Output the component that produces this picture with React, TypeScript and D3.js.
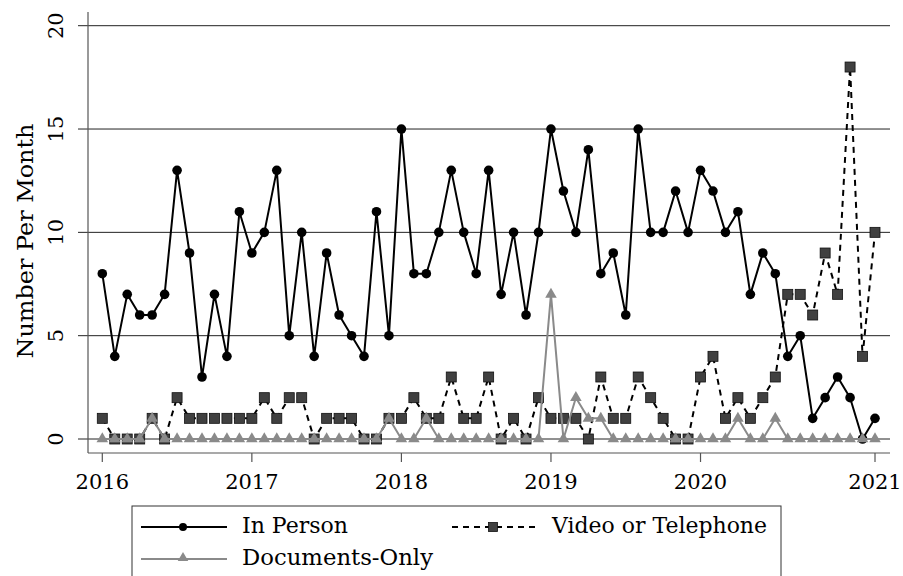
import React from 'react';
import * as d3 from 'd3';

// Monthly counts, Jan 2016 .. Mar 2021
const inPerson = [8,4,7,6,6,7,13,9,3,7,4,11, 9,10,13,5,10,4,9,6,5,4,11,5, 15,8,8,10,13,10,8,13,7,10,6,10, 15,12,10,14,8,9,6,15,10,10,12,10, 13,12,10,11,7,9,8,4,5,1,2,3, 2,0,1];
const videoTelephone = [1,0,0,0,1,0,2,1,1,1,1,1, 1,2,1,2,2,0,1,1,1,0,0,1, 1,2,1,1,3,1,1,3,0,1,0,2, 1,1,1,0,3,1,1,3,2,1,0,0, 3,4,1,2,1,2,3,7,7,6,9,7, 18,4,10];
const documentsOnly = [0,0,0,0,1,0,0,0,0,0,0,0, 0,0,0,0,0,0,0,0,0,0,0,1, 0,0,1,0,0,0,0,0,0,0,0,0, 7,0,2,1,1,0,0,0,0,0,0,0, 0,0,0,1,0,0,1,0,0,0,0,0, 0,0,0];
const xTickIndex = [0, 12, 24, 36, 48, 62];
const xTickLabels = ['2016', '2017', '2018', '2019', '2020', '2021'];
const yTicks = [0, 5, 10, 15, 20];
const seriesNames = ['In Person', 'Video or Telephone', 'Documents-Only'];

const W = 903, H = 576;
const plotLeft = 88, plotRight = 890, plotTop = 12, plotBottom = 453;
const FONT = '"DejaVu Serif", serif';

export default function App() {
  const idx = d3.range(inPerson.length);
  const x = d3.scaleLinear().domain([0, 62]).range([102.3, 875]);
  const y = d3.scaleLinear().domain([0, 20]).range([439, 25.7]);
  const line = (vals: number[]) =>
    d3.line<number>().x((_, i) => x(i)).y((d) => y(d))(vals) || '';
  const tri = d3.symbol().type(d3.symbolTriangle).size(58)() || '';
  const grey = '#8a8a8a';
  const sq = 10;

  return (
    <svg width={W} height={H} style={{ position: 'absolute', left: 0, top: 0, display: 'block', background: '#fff' }}>
      <rect x={0} y={0} width={W} height={H} fill="#fff" />
      {/* gridlines */}
      {yTicks.map((t) => (
        <line key={'g' + t} x1={plotLeft - 10} x2={plotRight} y1={y(t)} y2={y(t)} stroke="#222" strokeWidth={1} />
      ))}
      {/* axes */}
      <line x1={plotLeft} x2={plotLeft} y1={plotTop} y2={plotBottom} stroke="#555" strokeWidth={1.2} />
      <line x1={plotLeft} x2={plotRight} y1={plotBottom} y2={plotBottom} stroke="#555" strokeWidth={1.2} />
      {yTicks.map((t) => (
        <text key={'yl' + t} x={63} y={y(t)} transform={`rotate(-90, 63, ${y(t)})`} textAnchor="middle"
          fontFamily={FONT} fontSize={21} fill="#000">{t}</text>
      ))}
      {xTickIndex.map((v, i) => (
        <g key={'xt' + v}>
          <line x1={x(v)} x2={x(v)} y1={plotBottom} y2={plotBottom + 9} stroke="#555" strokeWidth={1.2} />
          <text x={x(v)} y={489} textAnchor="middle" fontFamily={FONT} fontSize={21} fill="#000">{xTickLabels[i]}</text>
        </g>
      ))}
      <text x={33} y={241} transform="rotate(-90, 33, 241)" textAnchor="middle" fontFamily={FONT} fontSize={23}
        textLength={235} lengthAdjust="spacingAndGlyphs" fill="#000">
        Number Per Month
      </text>

      {/* In Person */}
      <path d={line(inPerson)} fill="none" stroke="#000" strokeWidth={2} strokeLinejoin="round" />
      {idx.map((i) => (
        <circle key={'c' + i} cx={x(i)} cy={y(inPerson[i])} r={4.8} fill="#000" />
      ))}
      {/* Video or Telephone */}
      <path d={line(videoTelephone)} fill="none" stroke="#000" strokeWidth={2} strokeDasharray="6,5" />
      {idx.map((i) => (
        <rect key={'s' + i} x={x(i) - sq / 2} y={y(videoTelephone[i]) - sq / 2} width={sq} height={sq}
          fill="#404040" stroke="#111" strokeWidth={0.8} />
      ))}
      {/* Documents-Only */}
      <path d={line(documentsOnly)} fill="none" stroke={grey} strokeWidth={2} strokeLinejoin="round" />
      {idx.map((i) => (
        <path key={'t' + i} d={tri} transform={`translate(${x(i)},${y(documentsOnly[i])})`} fill={grey} />
      ))}

      {/* legend */}
      <rect x={132} y={506} width={649} height={90} fill="#fff" stroke="#333" strokeWidth={1} />
      <line x1={141} x2={227} y1={527} y2={527} stroke="#000" strokeWidth={2} />
      <circle cx={183} cy={527} r={4} fill="#000" />
      <text x={242} y={533} fontFamily={FONT} fontSize={22} textLength={106} lengthAdjust="spacingAndGlyphs" fill="#000">{seriesNames[0]}</text>
      <line x1={452} x2={538} y1={527} y2={527} stroke="#000" strokeWidth={2} strokeDasharray="6,5" />
      <rect x={488.5} y={522.5} width={9} height={9} fill="#404040" stroke="#111" strokeWidth={0.8} />
      <text x={552} y={533} fontFamily={FONT} fontSize={22} textLength={215} lengthAdjust="spacingAndGlyphs" fill="#000">{seriesNames[1]}</text>
      <line x1={141} x2={227} y1={559} y2={559} stroke={grey} strokeWidth={2} />
      <path d={d3.symbol().type(d3.symbolTriangle).size(48)() || ''} transform="translate(183,558)" fill={grey} />
      <text x={242} y={565} fontFamily={FONT} fontSize={22} textLength={191} lengthAdjust="spacingAndGlyphs" fill="#000">{seriesNames[2]}</text>
    </svg>
  );
}
